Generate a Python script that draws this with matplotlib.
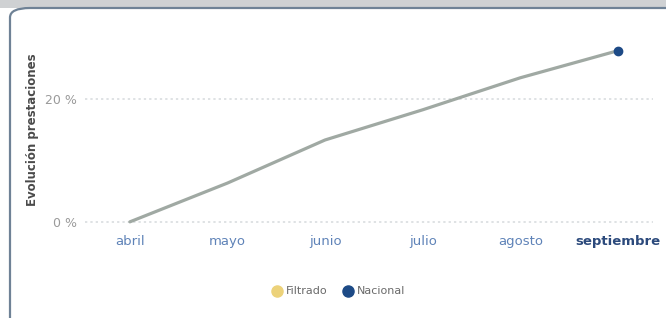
import numpy as np
import matplotlib.pyplot as plt
from matplotlib.patches import FancyBboxPatch

# data
months = ["abril", "mayo", "junio", "julio", "agosto", "septiembre"]
nacional = [0.0, 6.3, 13.3, 18.2, 23.4, 27.8]
y_ticks = [0, 20]
legend_labels = ["Filtrado", "Nacional"]

W, H = 666, 318
fig = plt.figure(figsize=(W / 100, H / 100), dpi=100)
fig.patch.set_facecolor("#ffffff")

# grey strip at the top and the card frame
fig.patches.append(plt.Rectangle((0, (H - 8) / H), 1, 8 / H, transform=fig.transFigure,
                                 facecolor="#cfd1d3", edgecolor="none", zorder=0))
card = FancyBboxPatch((10 / W, -0.2), 1.2, (H - 8) / H + 0.2,
                      boxstyle="round,pad=0,rounding_size=0.03",
                      transform=fig.transFigure, facecolor="#ffffff",
                      edgecolor="#6f8296", linewidth=1.6, zorder=1)
fig.patches.append(card)

ax = fig.add_axes([85 / W, (H - 228) / H, (653 - 85) / W, (228 - 31) / H])
ax.set_zorder(3)
ax.set_facecolor("none")
x = np.arange(len(months))

ax.plot(x, nacional, color="#a0a9a3", linewidth=2.3, solid_capstyle="round", zorder=3)
ax.plot(x[-1], nacional[-1], "o", color="#1d4a86", markersize=6, zorder=4)

ax.set_xlim(-0.46, 5.36)
ax.set_ylim(-1, 31)
ax.set_yticks(y_ticks)
ax.set_yticklabels([f"{v} %" for v in y_ticks], color="#9a9a9a", fontsize=9)
for v in y_ticks:
    ax.axhline(v, color="#d6dadd", linewidth=1.1, linestyle=(0, (1.5, 2)), zorder=1)

ax.set_xticks(x)
ax.set_xticklabels(months, fontsize=9.5, color="#5f83b8")
ax.get_xticklabels()[-1].set_fontweight("bold")
ax.get_xticklabels()[-1].set_color("#2c4a7c")
ax.tick_params(axis="both", length=0)
ax.tick_params(axis="x", pad=5)
ax.tick_params(axis="y", pad=6)
for s in ax.spines.values():
    s.set_visible(False)

fig.text(33 / W, 1 - 130 / H, "Evolución prestaciones", rotation=90, fontsize=8.5,
         color="#4a4a4a", fontweight="semibold", ha="center", va="center", zorder=3)

# legend
ly = 1 - 291 / H
fig.lines.append(plt.Line2D([277 / W], [ly], marker="o", color="#ecd27a", markersize=8,
                            transform=fig.transFigure, zorder=3))
fig.text(286 / W, ly, legend_labels[0], fontsize=8, color="#6a6a6a", va="center", zorder=3)
fig.lines.append(plt.Line2D([348 / W], [ly], marker="o", color="#1d4a86", markersize=8,
                            transform=fig.transFigure, zorder=3))
fig.text(357 / W, ly, legend_labels[1], fontsize=8, color="#6a6a6a", va="center", zorder=3)

fig.savefig("out.png", dpi=100)
